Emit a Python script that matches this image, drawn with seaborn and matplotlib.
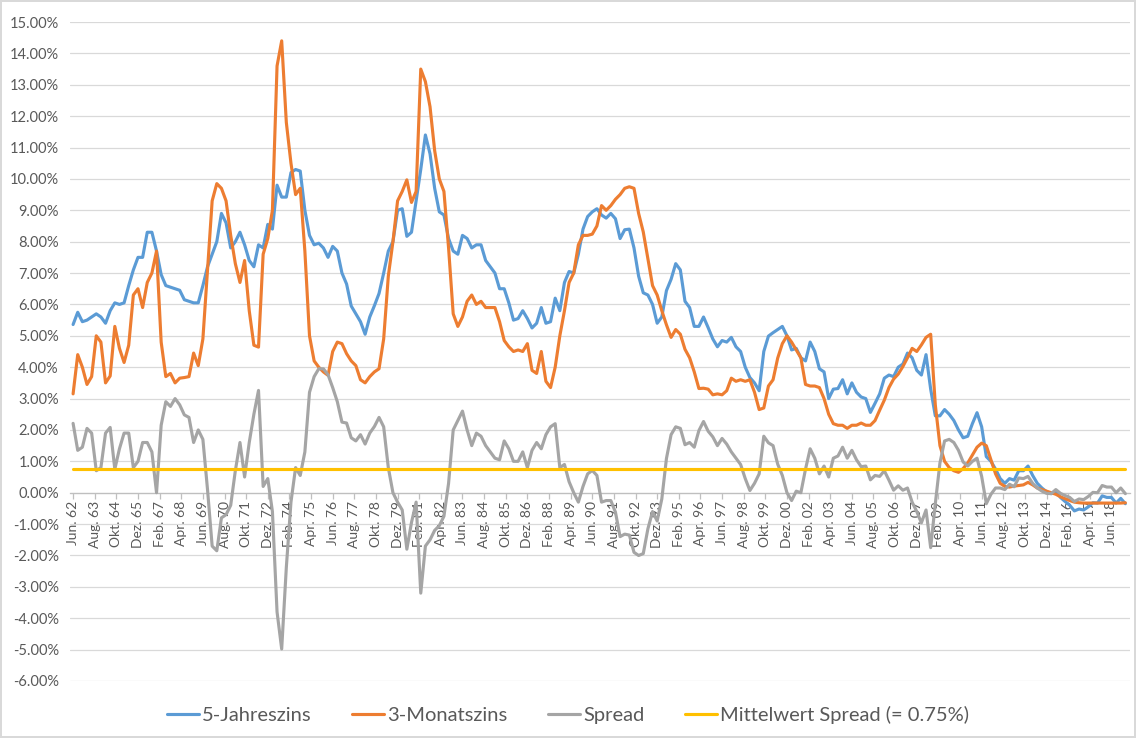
import numpy as np
import pandas as pd
import matplotlib.pyplot as plt
import seaborn as sns
from matplotlib.ticker import FixedLocator, FuncFormatter, MultipleLocator

# -----------------------------
# DATA (quarterly readings, one row per year starting in June: Jun, Sep, Dez, Mar)
# -----------------------------
five_year = [
    5.36, 5.75, 5.45, 5.5,    # 62
    5.6, 5.7, 5.6, 5.4,       # 63
    5.8, 6.05, 6.0, 6.05,     # 64
    6.6, 7.1, 7.5, 7.5,       # 65
    8.3, 8.3, 7.7, 6.95,      # 66
    6.6, 6.55, 6.5, 6.45,     # 67
    6.15, 6.1, 6.05, 6.05,    # 68
    6.6, 7.2, 7.6, 8.0,       # 69
    8.9, 8.6, 7.8, 8.0,       # 70
    8.3, 7.9, 7.4, 7.2,       # 71
    7.9, 7.8, 8.55, 8.4,      # 72
    9.8, 9.42, 9.42, 10.2,    # 73
    10.3, 10.25, 9.0, 8.2,    # 74
    7.9, 7.95, 7.8, 7.5,      # 75
    7.85, 7.7, 7.0, 6.65,     # 76
    5.95, 5.7, 5.45, 5.05,    # 77
    5.6, 5.96, 6.35, 7.0,     # 78
    7.7, 8.0, 9.0, 9.05,      # 79
    8.17, 8.3, 9.3, 10.3,     # 80
    11.4, 10.8, 9.7, 8.95,    # 81
    8.85, 8.1, 7.7, 7.6,      # 82
    8.2, 8.1, 7.8, 7.9,       # 83
    7.9, 7.4, 7.2, 7.0,       # 84
    6.5, 6.5, 6.05, 5.5,      # 85
    5.55, 5.8, 5.55, 5.25,    # 86
    5.4, 5.9, 5.4, 5.45,      # 87
    6.2, 5.8, 6.7, 7.05,      # 88
    7.0, 7.6, 8.4, 8.8,       # 89
    8.95, 9.05, 8.85, 8.75,   # 90
    8.9, 8.73, 8.1, 8.38,     # 91
    8.4, 7.8, 6.9, 6.37,      # 92
    6.3, 6.0, 5.4, 5.6,       # 93
    6.44, 6.8, 7.3, 7.1,      # 94
    6.1, 5.9, 5.3, 5.3,       # 95
    5.6, 5.26, 4.9, 4.65,     # 96
    4.85, 4.8, 4.95, 4.65,    # 97
    4.5, 4.0, 3.67, 3.5,      # 98
    3.25, 4.5, 4.99, 5.1,     # 99
    5.2, 5.3, 5.0, 4.55,      # 00
    4.6, 4.3, 4.2, 4.8,       # 01
    4.5, 3.95, 3.85, 3.0,     # 02
    3.3, 3.32, 3.6, 3.15,     # 03
    3.5, 3.2, 3.05, 3.0,      # 04
    2.56, 2.85, 3.15, 3.65,   # 05
    3.75, 3.7, 4.0, 4.1,      # 06
    4.45, 4.3, 3.9, 3.75,     # 07
    4.4, 3.3, 2.45, 2.45,     # 08
    2.65, 2.5, 2.3, 2.0,      # 09
    1.75, 1.8, 2.2, 2.55,     # 10
    2.1, 1.15, 1.0, 0.75,     # 11
    0.45, 0.3, 0.45, 0.4,     # 12
    0.7, 0.7, 0.85, 0.55,     # 13
    0.3, 0.15, 0.03, -0.03,   # 14
    0.05, -0.15, -0.28, -0.4,  # 15
    -0.58, -0.52, -0.55, -0.45,  # 16
    -0.32, -0.33, -0.1, -0.15,   # 17
    -0.15, -0.33, -0.18, -0.35,  # 18
]

three_month = [
    3.15, 4.4, 4.0, 3.45,     # 62
    3.7, 5.0, 4.8, 3.5,       # 63
    3.72, 5.3, 4.6, 4.15,     # 64
    4.7, 6.3, 6.5, 5.9,       # 65
    6.7, 7.0, 7.7, 4.8,       # 66
    3.7, 3.8, 3.5, 3.65,      # 67
    3.67, 3.7, 4.45, 4.05,    # 68
    4.9, 7.1, 9.3, 9.85,      # 69
    9.7, 9.3, 8.2, 7.3,       # 70
    6.7, 7.4, 5.8, 4.7,       # 71
    4.64, 7.6, 8.1, 9.0,      # 72
    13.6, 14.4, 11.8, 10.5,   # 73
    9.5, 9.7, 7.7, 5.0,       # 74
    4.2, 4.0, 3.85, 3.74,     # 75
    4.5, 4.8, 4.75, 4.43,     # 76
    4.2, 4.05, 3.6, 3.5,      # 77
    3.7, 3.85, 3.95, 4.9,     # 78
    6.9, 8.0, 9.3, 9.6,       # 79
    9.97, 9.25, 9.6, 13.5,    # 80
    13.1, 12.3, 10.9, 10.0,   # 81
    9.6, 7.8, 5.7, 5.3,       # 82
    5.6, 6.1, 6.3, 6.0,       # 83
    6.1, 5.9, 5.9, 5.9,       # 84
    5.45, 4.85, 4.65, 4.5,    # 85
    4.55, 4.5, 4.75, 3.9,     # 86
    3.8, 4.5, 3.55, 3.35,     # 87
    4.0, 5.0, 5.8, 6.7,       # 88
    7.0, 7.9, 8.2, 8.2,       # 89
    8.24, 8.5, 9.15, 9.0,     # 90
    9.15, 9.35, 9.5, 9.7,     # 91
    9.75, 9.7, 8.9, 8.31,     # 92
    7.45, 6.6, 6.3, 5.8,      # 93
    5.35, 4.95, 5.2, 5.05,    # 94
    4.57, 4.3, 3.85, 3.32,    # 95
    3.33, 3.3, 3.12, 3.15,    # 96
    3.12, 3.25, 3.65, 3.55,   # 97
    3.6, 3.55, 3.6, 3.2,      # 98
    2.65, 2.7, 3.4, 3.6,      # 99
    4.29, 4.75, 5.0, 4.8,     # 00
    4.55, 4.3, 3.45, 3.4,     # 01
    3.4, 3.35, 3.0, 2.5,      # 02
    2.2, 2.15, 2.15, 2.05,    # 03
    2.15, 2.15, 2.22, 2.15,   # 04
    2.15, 2.3, 2.63, 2.95,    # 05
    3.35, 3.62, 3.78, 4.02,   # 06
    4.3, 4.6, 4.5, 4.71,      # 07
    4.95, 5.05, 2.8, 1.5,     # 08
    1.0, 0.8, 0.7, 0.65,      # 09
    0.77, 0.95, 1.2, 1.45,    # 10
    1.58, 1.5, 1.05, 0.6,     # 11
    0.3, 0.2, 0.18, 0.21,     # 12
    0.23, 0.25, 0.33, 0.25,   # 13
    0.15, 0.1, 0.05, 0.0,     # 14
    -0.05, -0.13, -0.19, -0.25,  # 15
    -0.3, -0.32, -0.33, -0.33,   # 16
    -0.33, -0.33, -0.33, -0.33,  # 17
    -0.33, -0.33, -0.33, -0.32,  # 18
]

mean_spread = 0.75

tick_labels = [
    "Jun. 62", "Aug. 63", "Okt. 64", "Dez. 65", "Feb. 67", "Apr. 68", "Jun. 69",
    "Aug. 70", "Okt. 71", "Dez. 72", "Feb. 74", "Apr. 75", "Jun. 76", "Aug. 77",
    "Okt. 78", "Dez. 79", "Feb. 81", "Apr. 82", "Jun. 83", "Aug. 84", "Okt. 85",
    "Dez. 86", "Feb. 88", "Apr. 89", "Jun. 90", "Aug. 91", "Okt. 92", "Dez. 93",
    "Feb. 95", "Apr. 96", "Jun. 97", "Aug. 98", "Okt. 99", "Dez. 00", "Feb. 02",
    "Apr. 03", "Jun. 04", "Aug. 05", "Okt. 06", "Dez. 07", "Feb. 09", "Apr. 10",
    "Jun. 11", "Aug. 12", "Okt. 13", "Dez. 14", "Feb. 16", "Apr. 17", "Jun. 18",
]

# -----------------------------
# BUILD TABLE
# -----------------------------
df = pd.DataFrame({
    "month": np.arange(len(five_year)) * 3,
    "five": five_year,
    "three": three_month,
})
df["spread"] = df["five"] - df["three"]
df["mean"] = mean_spread

# -----------------------------
# PLOT
# -----------------------------
sns.set_theme(style="white")
plt.rcParams["font.family"] = ["Lato", "DejaVu Sans"]

fig = plt.figure(figsize=(11.36, 7.38), dpi=100)
fig.patch.set_edgecolor("#D9D9D9")
fig.patch.set_linewidth(1.5)
ax = fig.add_axes([70 / 1136, 1 - 681 / 738, 1060 / 1136, 659 / 738])

series = [
    ("five", "5-Jahreszins", "#5B9BD5"),
    ("three", "3-Monatszins", "#ED7D31"),
    ("spread", "Spread", "#A5A5A5"),
    ("mean", "Mittelwert Spread (= 0.75%)", "#FFC000"),
]
for i, (col, label, color) in enumerate(series):
    sns.lineplot(data=df, x="month", y=col, ax=ax, color=color, linewidth=2.25,
                 label=label, errorbar=None, sort=False, zorder=3 + i)

ax.set_xlim(-2, 684)
ax.set_ylim(-6, 15)
ax.set_xlabel("")
ax.set_ylabel("")

ax.yaxis.set_major_locator(MultipleLocator(1))
ax.yaxis.set_major_formatter(FuncFormatter(lambda v, p: f"{v:.2f}%"))
ax.yaxis.grid(True, color="#D9D9D9", linewidth=0.9)
ax.set_axisbelow(True)

ax.xaxis.set_major_locator(FixedLocator(np.arange(len(tick_labels)) * 14))
ax.set_xticklabels(tick_labels)

for s in ["left", "right", "top"]:
    ax.spines[s].set_visible(False)
ax.spines["bottom"].set_position(("data", 0))
ax.spines["bottom"].set_color("#BFBFBF")
ax.spines["bottom"].set_linewidth(0.9)

ax.tick_params(axis="y", length=0, pad=8, labelsize=10.5, labelcolor="#595959")
ax.tick_params(axis="x", bottom=True, length=4, width=0.9, color="#BFBFBF",
               pad=2, labelsize=10, labelcolor="#595959", labelrotation=90)

handles, labels = ax.get_legend_handles_labels()
ax.get_legend().remove()
fig.legend(handles, labels, loc="center", bbox_to_anchor=(0.5, 1 - 715 / 738),
           ncol=4, frameon=False, fontsize=14.5, handlelength=1.6,
           handletextpad=0.15, columnspacing=2.0, labelcolor="#595959")

plt.savefig("out.png", dpi=100)
plt.close()
